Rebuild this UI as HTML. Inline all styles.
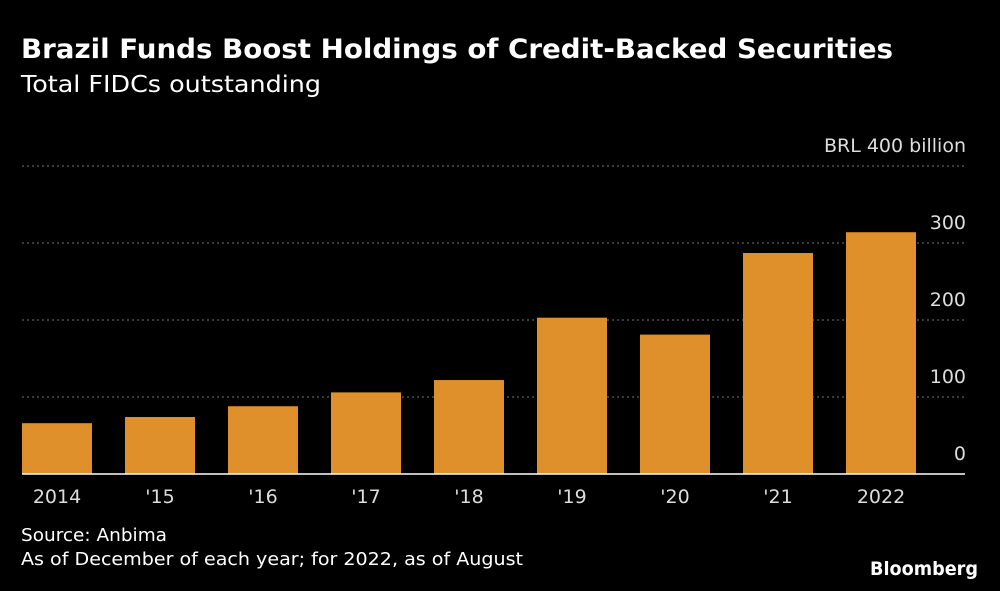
<!DOCTYPE html>
<html><head><meta charset="utf-8"><style>
body{margin:0;background:#000;width:1000px;height:587px;overflow:hidden;font-family:"DejaVu Sans","Liberation Sans",sans-serif;color:#fff}
svg text{font-family:"DejaVu Sans","Liberation Sans",sans-serif}
</style></head><body>
<svg width="1000" height="587" xmlns="http://www.w3.org/2000/svg">
<rect width="1000" height="587" fill="#000"/>
<text x="21" y="58" font-size="27" font-weight="bold" fill="#fff" textLength="872" lengthAdjust="spacingAndGlyphs">Brazil Funds Boost Holdings of Credit-Backed Securities</text>
<text x="21" y="92" font-size="23" fill="#fff" textLength="300" lengthAdjust="spacingAndGlyphs">Total FIDCs outstanding</text>
<g id="grid"></g>
<g id="bars"></g>
<g id="xlabels"></g>
<text x="21" y="541" font-size="18" fill="#fff" textLength="146" lengthAdjust="spacingAndGlyphs">Source: Anbima</text>
<text x="21" y="565" font-size="18" fill="#fff" textLength="502" lengthAdjust="spacingAndGlyphs">As of December of each year; for 2022, as of August</text>
<text x="978" y="575" font-size="19" font-weight="bold" fill="#fff" text-anchor="end" textLength="108" lengthAdjust="spacingAndGlyphs">Bloomberg</text>
</svg>
<script>
const categories=["2014","'15","'16","'17","'18","'19","'20","'21","2022"];
const values=[66,74,88,106,122,203,181,287,314];
const ticks=[0,100,200,300,400];
const tickLabels=["0","100","200","300","BRL  400 billion"];
const NS="http://www.w3.org/2000/svg";
const y0=474,pxPer=0.77,left=22,right=965,step=103,bw=70;
const y=v=>y0-v*pxPer;
const x=i=>left+i*step;
const grid=document.getElementById('grid');
ticks.forEach((t,i)=>{
  if(t>0){const l=document.createElementNS(NS,'line');
  l.setAttribute('x1',left);l.setAttribute('x2',right);l.setAttribute('y1',y(t));l.setAttribute('y2',y(t));
  l.setAttribute('stroke','#777');l.setAttribute('stroke-dasharray','2,3');l.setAttribute('stroke-width','1');
  
  
  grid.appendChild(l);}
  const tx=document.createElementNS(NS,'text');
  tx.setAttribute('x',966);tx.setAttribute('y',y(t)-14);tx.setAttribute('text-anchor','end');
  tx.setAttribute('font-size','19');tx.setAttribute('fill','#ddd');tx.textContent=tickLabels[i];
  
  
  grid.appendChild(tx);
});
const bars=document.getElementById('bars'),xl=document.getElementById('xlabels');
values.forEach((v,i)=>{
  const r=document.createElementNS(NS,'rect');
  r.setAttribute('x',x(i));r.setAttribute('y',y(v));r.setAttribute('width',bw);r.setAttribute('height',v*pxPer);r.setAttribute('fill','#e0902a');
  
  
  bars.appendChild(r);
  const t=document.createElementNS(NS,'text');
  t.setAttribute('x',x(i)+bw/2);t.setAttribute('y',503);t.setAttribute('text-anchor','middle');t.setAttribute('font-size','19');t.setAttribute('fill','#ddd');
  t.textContent=categories[i];
  
  
  xl.appendChild(t);
});
const base=document.createElementNS(NS,'line');
base.setAttribute('x1',left);base.setAttribute('x2',right);base.setAttribute('y1',y0);base.setAttribute('y2',y0);base.setAttribute('stroke','#fff');base.setAttribute('stroke-width','1.5');


bars.appendChild(base);
</script>
</body></html>
